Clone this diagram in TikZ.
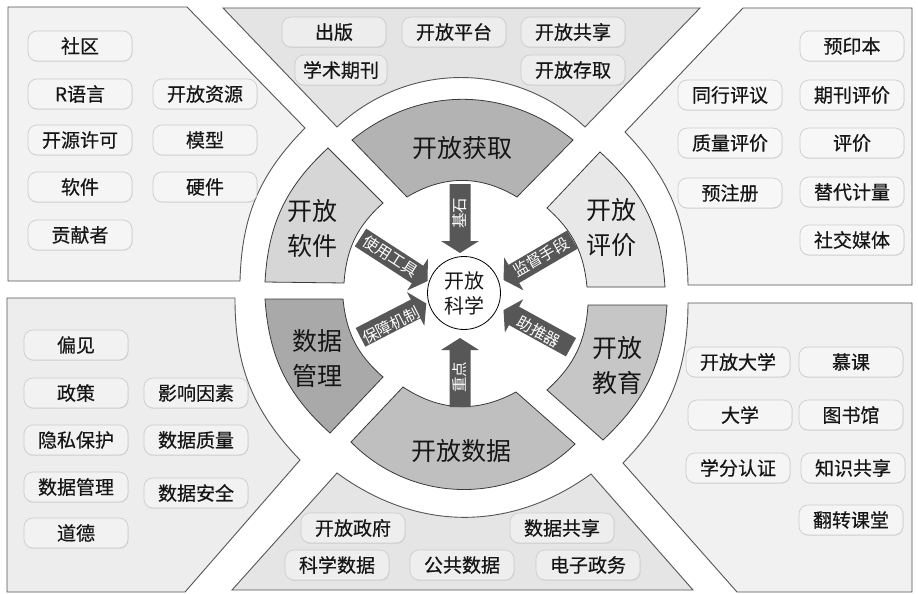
\documentclass[tikz,border=0pt]{standalone}
\usepackage{fontspec}
\setmainfont{Noto Sans CJK SC}
\newfontfamily\pillfont{Noto Sans CJK SC}[FakeBold=0.5]
\usetikzlibrary{shadows}
\definecolor{tlfill}{HTML}{F2F2F2}
\definecolor{tfill}{HTML}{E4E4E4}
\definecolor{trfill}{HTML}{F4F4F4}
\definecolor{blfill}{HTML}{EDEDED}
\definecolor{bfill}{HTML}{E5E5E5}
\definecolor{brfill}{HTML}{F1F1F1}
\definecolor{pA}{HTML}{F5F5F5}
\definecolor{pT}{HTML}{EDEDED}
\definecolor{pR}{HTML}{F7F7F7}
\definecolor{pBL}{HTML}{F2F2F2}
\definecolor{pB}{HTML}{EEEEEE}
\definecolor{pBR}{HTML}{F5F5F5}
\definecolor{sA}{HTML}{B3B3B3}
\definecolor{sB}{HTML}{D6D6D6}
\definecolor{sC}{HTML}{E8E8E8}
\definecolor{sD}{HTML}{A9A9A9}
\definecolor{sE}{HTML}{C6C6C6}
\definecolor{sF}{HTML}{BFBFBF}
\definecolor{panelline}{HTML}{555555}
\definecolor{sectline}{HTML}{3A3A3A}
\definecolor{arrowfill}{HTML}{575757}
\definecolor{pillline}{HTML}{CDCDCD}
\definecolor{txt}{HTML}{161616}
\newcommand\blockarrow[4]{%
  \begin{scope}[shift={(#1,#2)}, rotate=#3]
    \fill[arrowfill] (0,-10.5) -- ({#4-12},-10.5) -- ({#4-12},-19) -- (#4,0) -- ({#4-12},19) -- ({#4-12},10.5) -- (0,10.5) -- cycle;
  \end{scope}}
\tikzset{
  panel/.style={draw=panelline, line width=0.9pt},
  sector/.style={draw=sectline, line width=0.8pt},
  pill/.style={rounded corners=9pt, minimum width=104pt, minimum height=30pt, inner sep=0pt,
    draw=pillline, line width=0.7pt, fill=#1, font=\pillfont\fontsize{19}{22}\selectfont, text=txt,
    drop shadow={shadow xshift=0.6pt, shadow yshift=-0.9pt, opacity=0.15}},
  pill/.default=pA,
  seclabel/.style={align=center, text=txt, inner sep=0pt, font=\fontsize{25}{35}\selectfont},
  arrowtext/.style={text=white, inner sep=0pt, font=\fontsize{15.5}{16}\selectfont}
}
\begin{document}
\begin{tikzpicture}[x=1pt,y=-1pt]
\path[use as bounding box, fill=white] (0,0) rectangle (918,594);

% panels
\draw[panel, fill=tlfill] (8,7) -- (187,7) -- (305,128) to[bend right=21.5] (240,281) -- (8,281) -- cycle;
\draw[panel, fill=tfill] (223,8) -- (700,8) -- (585,127) to[bend right=43] (337,127) -- cycle;
\draw[panel, fill=trfill] (743,8) -- (912,8) -- (912,285) -- (688,285) to[bend right=21.5] (625,132) -- cycle;
\draw[panel, fill=blfill] (7,298) -- (235,298) to[bend right=22] (300,460) -- (185,592) -- (7,592) -- cycle;
\draw[panel, fill=bfill] (337,473) to[bend right=36] (591,474) -- (693,590) -- (232,590) -- cycle;
\draw[panel, fill=brfill] (623,463) to[bend right=22] (688,303) -- (912,303) -- (912,592) -- (737,592) -- cycle;

% ring sectors
\draw[sector, fill=sA] (352,140) to[bend left=39] (573,140) -- (517,197) to[bend right=31] (407,197) -- cycle;
\draw[sector, fill=sB] (328,148) to[bend right=22] (265,282) -- (344,283) to[bend left=22] (383,203) -- cycle;
\draw[sector, fill=sC] (600,152) to[bend left=22] (665,287) -- (587,287) to[bend right=21.5] (547,208) -- cycle;
\draw[sector, fill=sD] (265,299) to[bend right=22] (330,433) -- (383,377) to[bend left=21.5] (343,299) -- cycle;
\draw[sector, fill=sE] (667,305) to[bend left=21.5] (603,440) -- (547,390) to[bend right=22] (588,305) -- cycle;
\draw[sector, fill=sF] (351,442) to[bend right=45] (575,444) -- (516,392) to[bend left=31] (403,387) -- cycle;

% sector labels
\node[seclabel] (oa) at (462,148) {开放获取};
\node[seclabel] (osw) at (312,228) {开放\\软件};
\node[seclabel] (oev) at (611,228) {开放\\评价};
\node[seclabel] (dm) at (317,358) {数据\\管理};
\node[seclabel] (oed) at (617,366) {开放\\教育};
\node[seclabel] (od) at (461,451) {开放数据};

% arrows
\blockarrow{460}{184}{-90}{69}
\blockarrow{460}{407}{90}{69}
\blockarrow{360.5}{237.5}{-33}{80}
\blockarrow{572.5}{239.5}{210.4}{80}
\blockarrow{360.5}{337.3}{27.2}{74}
\blockarrow{571}{347.2}{151.2}{77}
\node[arrowtext, rotate=90] (a1) at (460,213) {基石};
\node[arrowtext, rotate=90] (a2) at (460,377) {重点};
\node[arrowtext, rotate=-33] (a3) at (391,256) {使用工具};
\node[arrowtext, rotate=30] (a4) at (541,257) {监督手段};
\node[arrowtext, rotate=27] (a5) at (391,325) {保障机制};
\node[arrowtext, rotate=-29] (a6) at (539,332) {助推器};

% centre
\node[circle, draw=black, line width=0.8pt, fill=white, minimum size=73pt, inner sep=0pt, align=center, text=txt,
  font=\fontsize{20}{25}\selectfont] (core) at (464,293) {开放\\科学};

% top-left pills
\node[pill] (tl1) at (80,46) {社区};
\node[pill] (tl2) at (80,94) {R语言};
\node[pill] (tl3) at (80,140) {开源许可};
\node[pill] (tl4) at (80,187) {软件};
\node[pill] (tl5) at (80,235) {贡献者};
\node[pill] (tl6) at (205,94) {开放资源};
\node[pill] (tl7) at (205,140) {模型};
\node[pill] (tl8) at (205,187) {硬件};

% top pills
\node[pill=pT] (t1) at (334,32) {出版};
\node[pill=pT] (t2) at (454,32) {开放平台};
\node[pill=pT] (t3) at (573,32) {开放共享};
\node[pill=pT, minimum width=92pt] (t4) at (341,70) {学术期刊};
\node[pill=pT] (t5) at (573,70) {开放存取};

% top-right pills
\node[pill=pR] (tr1) at (852,46) {预印本};
\node[pill=pR] (tr2) at (730,95) {同行评议};
\node[pill=pR] (tr3) at (852,95) {期刊评价};
\node[pill=pR] (tr4) at (730,143) {质量评价};
\node[pill=pR] (tr5) at (852,143) {评价};
\node[pill=pR] (tr6) at (730,193) {预注册};
\node[pill=pR] (tr7) at (852,192) {替代计量};
\node[pill=pR] (tr8) at (852,240) {社交媒体};

% bottom-left pills
\node[pill=pBL] (bl1) at (76,345) {偏见};
\node[pill=pBL] (bl2) at (76,393) {政策};
\node[pill=pBL] (bl3) at (196,393) {影响因素};
\node[pill=pBL] (bl4) at (76,440) {隐私保护};
\node[pill=pBL] (bl5) at (196,440) {数据质量};
\node[pill=pBL] (bl6) at (76,487) {数据管理};
\node[pill=pBL] (bl7) at (196,493) {数据安全};
\node[pill=pBL] (bl8) at (76,533) {道德};

% bottom-right pills
\node[pill=pBR] (br1) at (738,362) {开放大学};
\node[pill=pBR] (br2) at (851,362) {慕课};
\node[pill=pBR] (br3) at (740,415) {大学};
\node[pill=pBR] (br4) at (851,415) {图书馆};
\node[pill=pBR] (br5) at (738,468) {学分认证};
\node[pill=pBR] (br6) at (853,468) {知识共享};
\node[pill=pBR] (br7) at (851,520) {翻转课堂};

% bottom pills
\node[pill=pB] (b1) at (353,528) {开放政府};
\node[pill=pB] (b2) at (562,528) {数据共享};
\node[pill=pB] (b3) at (337,565) {科学数据};
\node[pill=pB] (b4) at (462,565) {公共数据};
\node[pill=pB] (b5) at (588,565) {电子政务};
\end{tikzpicture}
\end{document}
